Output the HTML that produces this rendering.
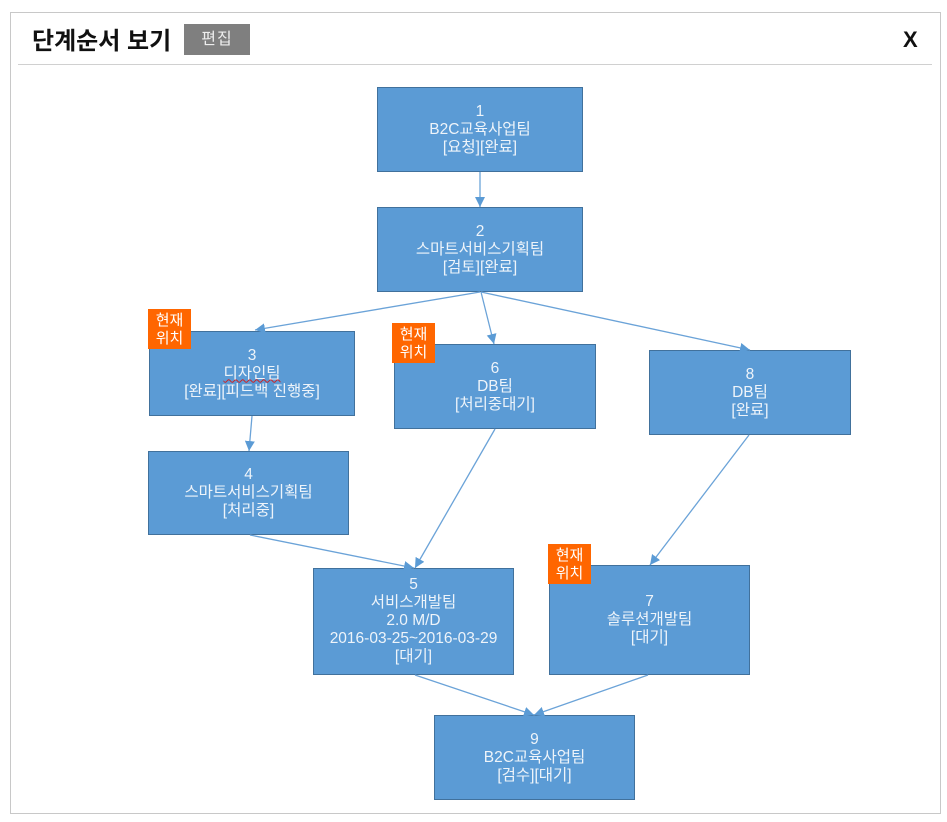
<!DOCTYPE html>
<html lang="ko">
<head>
<meta charset="utf-8">
<style>
html,body{margin:0;padding:0;background:#fff;}
body{position:relative;width:947px;height:822px;overflow:hidden;font-family:"Liberation Sans","Noto Sans CJK KR",sans-serif;}
.abs{position:absolute;box-sizing:border-box;}
.panel{left:10px;top:12px;width:931px;height:802px;border:1px solid #c8c8c8;}
.rule{left:18px;top:64px;width:914px;height:1px;background:#d0d0d0;}
.title{left:32px;top:27px;font-size:24px;line-height:30px;font-weight:700;color:#111;white-space:nowrap;}
.btn{left:184px;top:24px;width:66px;height:31px;background:#7f7f7f;color:#eee;font-size:16px;line-height:31px;text-align:center;letter-spacing:1px;}
.x{left:903px;top:26px;font-size:22px;line-height:28px;font-weight:700;color:#111;}
.n{background:#5b9bd5;border:1px solid #41719c;color:#eef4fa;font-size:15.5px;line-height:18px;text-align:center;display:flex;align-items:center;justify-content:center;white-space:nowrap;font-family:"Liberation Sans","Noto Sans CJK KR",sans-serif;}
.b{background:#ff6600;color:#fff;font-size:15px;line-height:18px;text-align:center;display:flex;align-items:center;justify-content:center;padding-top:2px;}
svg{position:absolute;left:0;top:0;}
.sq{text-decoration:underline wavy #d02020 1px;text-underline-offset:1px;}
</style>
</head>
<body>
<div class="abs panel"></div>
<div class="abs rule"></div>
<div class="abs title">단계순서 보기</div>
<div class="abs btn">편집</div>
<div class="abs x">X</div>

<div class="abs n" style="left:377px;top:87px;width:206px;height:85px;padding-top:1px;"><div>1<br>B2C교육사업팀<br>[요청][완료]</div></div>
<div class="abs n" style="left:377px;top:207px;width:206px;height:85px;"><div>2<br>스마트서비스기획팀<br>[검토][완료]</div></div>
<div class="abs n" style="left:149px;top:331px;width:206px;height:85px;"><div>3<br><span class="sq">디자인팀</span><br>[완료][피드백 진행중]</div></div>
<div class="abs n" style="left:394px;top:344px;width:202px;height:85px;"><div>6<br>DB팀<br>[처리중대기]</div></div>
<div class="abs n" style="left:649px;top:350px;width:202px;height:85px;"><div>8<br>DB팀<br>[완료]</div></div>
<div class="abs n" style="left:148px;top:451px;width:201px;height:84px;"><div>4<br>스마트서비스기획팀<br>[처리중]</div></div>
<div class="abs n" style="left:313px;top:568px;width:201px;height:107px;padding-bottom:2px;"><div>5<br>서비스개발팀<br>2.0 M/D<br>2016-03-25~2016-03-29<br>[대기]</div></div>
<div class="abs n" style="left:549px;top:565px;width:201px;height:110px;"><div>7<br>솔루션개발팀<br>[대기]</div></div>
<div class="abs n" style="left:434px;top:715px;width:201px;height:85px;"><div>9<br>B2C교육사업팀<br>[검수][대기]</div></div>

<svg width="947" height="822" viewBox="0 0 947 822">
  <defs>
    <marker id="h" markerUnits="userSpaceOnUse" markerWidth="12" markerHeight="12" refX="10" refY="5" orient="auto">
      <polygon points="0,0 10,5 0,10" fill="#5b9bd5"/>
    </marker>
  </defs>
  <g stroke="#6ba3d8" stroke-width="1.3" fill="none">
    <line x1="480" y1="172" x2="480" y2="207" marker-end="url(#h)"/>
    <line x1="480" y1="292" x2="255" y2="330" marker-end="url(#h)"/>
    <line x1="481" y1="292" x2="494" y2="344" marker-end="url(#h)"/>
    <line x1="481" y1="292" x2="750" y2="350" marker-end="url(#h)"/>
    <line x1="252" y1="416" x2="249" y2="451" marker-end="url(#h)"/>
    <line x1="495" y1="429" x2="415" y2="568" marker-end="url(#h)"/>
    <line x1="749" y1="435" x2="650" y2="565" marker-end="url(#h)"/>
    <line x1="250" y1="535" x2="414" y2="568" marker-end="url(#h)"/>
    <line x1="415" y1="675" x2="534" y2="715" marker-end="url(#h)"/>
    <line x1="648" y1="675" x2="534" y2="715" marker-end="url(#h)"/>
  </g>
</svg>

<div class="abs b" style="left:148px;top:309px;width:43px;height:40px;"><div>현재<br>위치</div></div>
<div class="abs b" style="left:392px;top:323px;width:43px;height:40px;"><div>현재<br>위치</div></div>
<div class="abs b" style="left:548px;top:544px;width:43px;height:40px;"><div>현재<br>위치</div></div>
</body>
</html>
